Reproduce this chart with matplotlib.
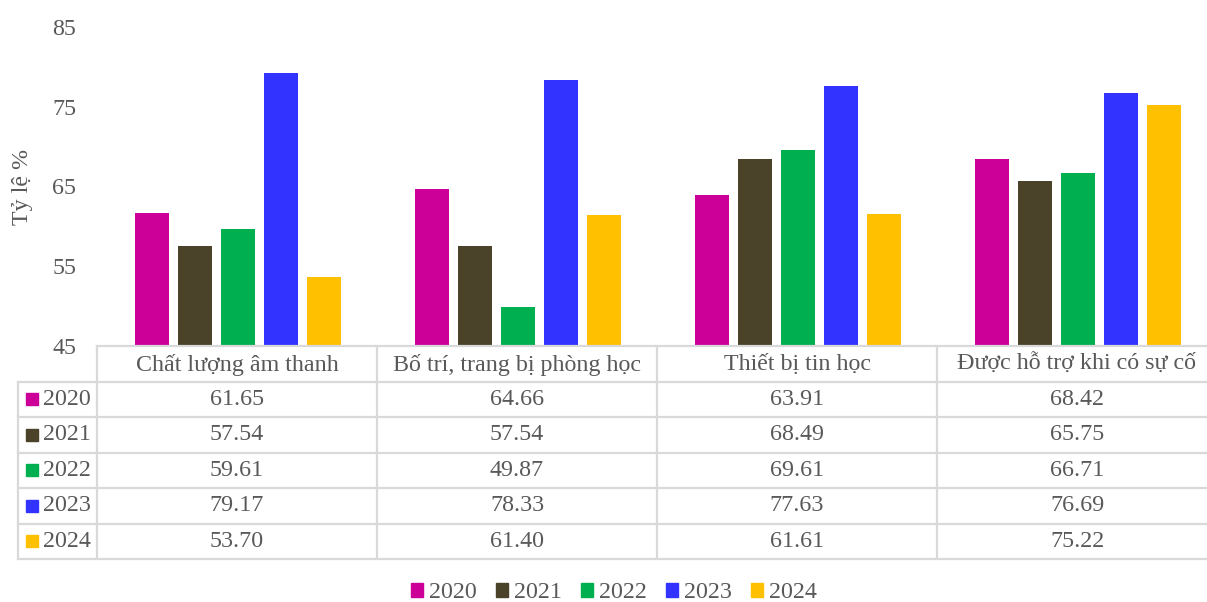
import matplotlib
matplotlib.use("Agg")
import matplotlib.pyplot as plt
from matplotlib.patches import Rectangle, Patch
from matplotlib.transforms import blended_transform_factory
import numpy as np

plt.rcParams['font.family'] = ['Liberation Serif', 'DejaVu Serif']

categories = ["Chất lượng âm thanh", "Bố trí, trang bị phòng học",
              "Thiết bị tin học", "Được hỗ trợ khi có sự cố"]
years = ["2020", "2021", "2022", "2023", "2024"]
v2020 = [61.65, 64.66, 63.91, 68.42]
v2021 = [57.54, 57.54, 68.49, 65.75]
v2022 = [59.61, 49.87, 69.61, 66.71]
v2023 = [79.17, 78.33, 77.63, 76.69]
v2024 = [53.70, 61.40, 61.61, 75.22]
series = [v2020, v2021, v2022, v2023, v2024]
colors = ["#CC0099", "#4A4229", "#00B050", "#3333FF", "#FFC000"]

TXT = "#595959"
GRID = "#D9D9D9"
FS = 17.3
W, H = 1207, 602
fig = plt.figure(figsize=(W / 100, H / 100), dpi=100)
ax_left, ax_right, ax_top, ax_bot = 97, 1217, 27, 346
ax = fig.add_axes([ax_left / W, 1 - ax_bot / H, (ax_right - ax_left) / W, (ax_bot - ax_top) / H])

x = np.arange(len(categories))
step = 0.1536
bw = 0.121
for i, (vals, c) in enumerate(zip(series, colors)):
    ax.bar(x + (i - 2) * step + 0.005, np.array(vals) - 45, bottom=45, width=bw, color=c, zorder=2)

ax.set_xlim(-0.5, len(categories) - 0.5)
ax.set_ylim(45, 85)
ax.set_yticks([45, 55, 65, 75, 85])
ax.tick_params(axis='y', length=0, labelsize=FS, labelcolor=TXT, pad=15)
ax.set_xticks([])
for s in ax.spines.values():
    s.set_visible(False)
ax.set_ylabel("Tỷ lệ %", fontsize=FS, color=TXT)
ax.yaxis.set_label_coords((33 - ax_left) / (ax_right - ax_left), 0.5)

# table
trans = blended_transform_factory(ax.transData, ax.transAxes)
ph = ax_bot - ax_top
def yax(py):
    return (ax_bot - py) / ph
def xd(px):
    return (px - ax_left) / (ax_right - ax_left) * len(categories) - 0.5

row_edges = [346, 381.5, 417, 452.5, 488, 523.5, 559]
lw = 1.6
left_tab = xd(18)
right_tab = len(categories) - 0.5
ax.plot([-0.5, right_tab], [yax(346)] * 2, transform=trans, color=GRID, lw=lw, clip_on=False)
for ry in row_edges[1:]:
    ax.plot([left_tab, right_tab], [yax(ry)] * 2, transform=trans, color=GRID, lw=lw, clip_on=False)
ax.plot([left_tab, left_tab], [yax(381.5), yax(559)], transform=trans, color=GRID, lw=lw, clip_on=False)
for k in range(len(categories) + 1):
    xv = k - 0.5
    ax.plot([xv, xv], [yax(346), yax(559)], transform=trans, color=GRID, lw=lw, clip_on=False)

for k, cat in enumerate(categories):
    ax.text(k, yax((row_edges[0] + row_edges[1]) / 2 + 1), cat, transform=trans,
            ha='center', va='center', fontsize=FS, color=TXT, clip_on=False)
for r, (yr, vals, c) in enumerate(zip(years, series, colors)):
    yc = yax((row_edges[r + 1] + row_edges[r + 2]) / 2)
    ax.add_patch(Rectangle((xd(26), yc - 6 / ph), xd(38) - xd(26), 12 / ph, transform=trans,
                           color=c, clip_on=False))
    ax.text(xd(43), yc, yr, transform=trans, ha='left', va='center', fontsize=FS,
            color=TXT, clip_on=False)
    for k, v in enumerate(vals):
        ax.text(k, yc, f"{v:.2f}", transform=trans, ha='center', va='center',
                fontsize=FS, color=TXT, clip_on=False)

handles = [Patch(color=c, label=y) for c, y in zip(colors, years)]
leg = fig.legend(handles=handles, loc='center', bbox_to_anchor=(614 / W, 1 - 593 / H),
                 ncol=5, frameon=False, fontsize=FS, handlelength=0.5, handleheight=0.5,
                 handletextpad=0.25, columnspacing=0.8, labelcolor=TXT)

fig.savefig("out.png", dpi=100)
